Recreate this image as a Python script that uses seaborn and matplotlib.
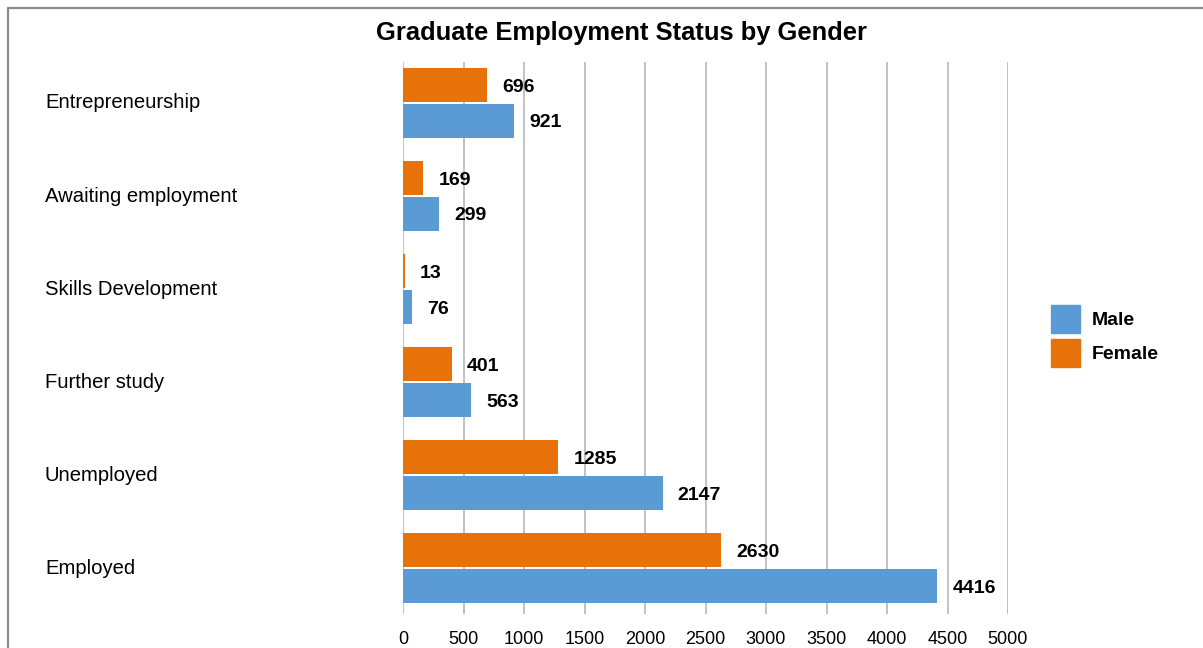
import matplotlib
matplotlib.use("Agg")
import matplotlib.pyplot as plt
import matplotlib.patches as mpatches
import matplotlib.transforms as mtransforms
import pandas as pd
import seaborn as sns

categories = ["Entrepreneurship", "Awaiting employment", "Skills Development",
              "Further study", "Unemployed", "Employed"]
male = [921, 299, 76, 563, 2147, 4416]
female = [696, 169, 13, 401, 1285, 2630]
x_ticks = [0, 500, 1000, 1500, 2000, 2500, 3000, 3500, 4000, 4500, 5000]

MALE_COLOR = "#5B9BD5"
FEMALE_COLOR = "#E8720A"

df = pd.DataFrame({
    "Status": categories * 2,
    "Count": female + male,
    "Gender": ["Female"] * len(categories) + ["Male"] * len(categories),
})

sns.set_theme(style="white")
plt.rcParams["font.family"] = ["Liberation Sans", "DejaVu Sans"]
plt.rcParams["text.color"] = "black"
plt.rcParams["xtick.color"] = "black"

W, H = 1203, 648
fig = plt.figure(figsize=(W / 100, H / 100), dpi=100)
ax = fig.add_axes([403 / W, 1 - 614 / H, (1008 - 403) / W, (614 - 62) / H])

sns.barplot(data=df, y="Status", x="Count", hue="Gender", order=categories,
            hue_order=["Female", "Male"],
            palette={"Female": FEMALE_COLOR, "Male": MALE_COLOR},
            orient="h", width=0.77, gap=0.05, saturation=1, legend=False,
            linewidth=0, edgecolor="none", ax=ax)

ax.set_xlim(0, 5000)
ax.set_ylim(5.49, -0.44)
ax.set_xticks(x_ticks)
ax.set_xticklabels([str(t) for t in x_ticks], fontsize=13)
ax.tick_params(axis="x", length=0, pad=12, colors="black")
ax.xaxis.grid(True, color="#BDBDBD", linewidth=1.3)
ax.set_axisbelow(True)
for s in ax.spines.values():
    s.set_visible(False)
ax.set_xlabel("")
ax.set_ylabel("")
ax.set_yticks(range(len(categories)))
ax.set_yticklabels([])
ax.tick_params(axis="y", length=0)

# category labels, left aligned
trans = mtransforms.blended_transform_factory(fig.transFigure, ax.transData)
for i, cat in enumerate(categories):
    ax.text(45 / W, i, cat, transform=trans, ha="left", va="center",
            fontsize=14.6, color="black")

# value labels beside each bar
off = mtransforms.offset_copy(ax.transData, fig=fig, x=15 * 0.72, y=-2 * 0.72,
                              units="points")
for cont in ax.containers:
    for bar in cont:
        w = bar.get_width()
        yc = bar.get_y() + bar.get_height() / 2
        ax.text(w, yc, f"{int(round(w))}", transform=off, ha="left", va="center",
                fontsize=14, fontweight="bold", color="black")

fig.text(621 / W, 1 - 33 / H, "Graduate Employment Status by Gender",
         ha="center", va="center", fontsize=18.4, fontweight="bold", color="black")

handles = [mpatches.Patch(color=MALE_COLOR, label="Male"),
           mpatches.Patch(color=FEMALE_COLOR, label="Female")]
leg = fig.legend(handles=handles, loc="center left", bbox_to_anchor=(1033 / W, 1 - 336 / H),
                 frameon=False, prop={"weight": "bold", "size": 14},
                 handlelength=1.5, handleheight=1.85, handletextpad=0.6, labelspacing=0.3)
for t in leg.get_texts():
    t.set_color("black")

# outer frame
fig.patches.append(mpatches.Rectangle((8 / W, -0.1), 1.2, (1 - 8 / H) + 0.1,
                                      transform=fig.transFigure, fill=False,
                                      edgecolor="#8C8C8C", linewidth=1.6))

fig.savefig("out.png", dpi=100)
